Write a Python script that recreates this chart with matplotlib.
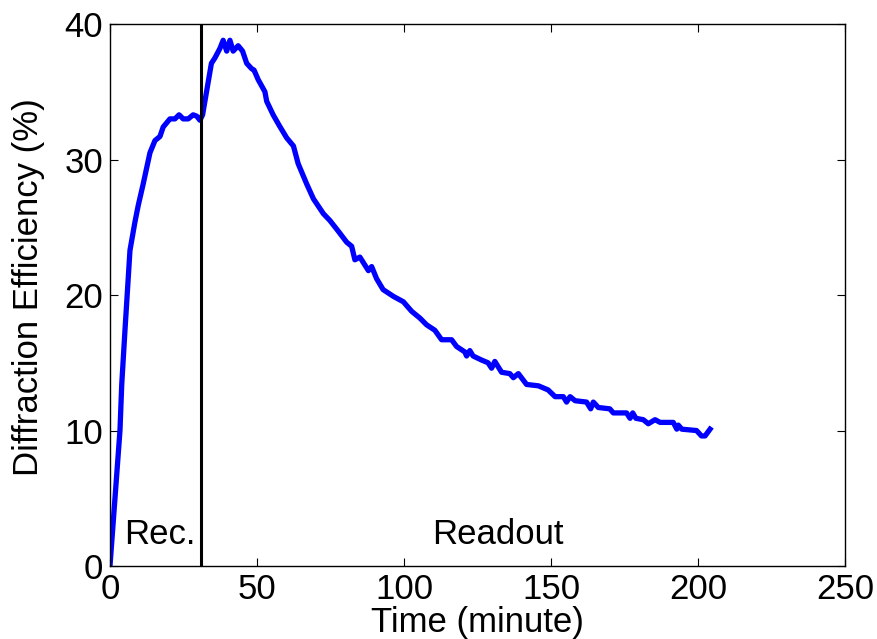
import numpy as np
import matplotlib
matplotlib.use('Agg')
import matplotlib.pyplot as plt

plt.rcParams['font.family'] = ['Liberation Sans', 'DejaVu Sans']

# Diffraction efficiency vs time
time_min = [0.0, 3.4, 4.0, 5.1, 6.8, 8.5, 9.6, 11.3, 13.6, 15.3, 17.0, 18.1,
            20.4, 22.1, 23.5, 24.9, 26.6, 28.3, 29.5, 30.6, 31.5,
            34.5, 35.7, 37.4, 38.5, 39.7, 40.8, 41.9, 43.6, 45.1, 46.5,
            48.2, 49.0, 50.4, 52.7, 53.3, 55.5, 57.6, 60.1, 62.4, 64.0,
            66.9, 69.2, 72.6, 74.8, 77.7, 80.5, 82.2, 83.3, 85.0, 87.9,
            89.0, 90.7, 92.9, 96.4, 99.8, 102.6, 105.4, 107.7, 110.5, 112.8,
            116.2, 117.9, 120.7, 121.3, 122.4, 123.5, 126.4, 128.6, 129.8,
            130.9, 133.2, 136.0, 137.2, 138.9, 141.7, 145.7, 149.0, 151.4,
            154.2, 155.3, 156.5, 158.2, 162.1, 163.5, 164.4, 166.1, 170.0,
            171.2, 175.7, 176.9, 177.8, 178.9, 181.4, 183.1, 185.4, 187.1,
            191.6, 192.8, 193.3, 194.5, 199.5, 201.2, 202.4, 204.1]
eff_pct = [0.0, 10.0, 13.4, 17.4, 23.3, 25.4, 26.6, 28.2, 30.5, 31.4, 31.7, 32.4,
           33.0, 33.0, 33.3, 33.0, 33.0, 33.3, 33.2, 32.9, 33.3,
           37.1, 37.5, 38.2, 38.8, 38.0, 38.8, 38.0, 38.4, 38.0, 37.1,
           36.7, 36.6, 35.9, 35.0, 34.3, 33.3, 32.5, 31.6, 31.0, 29.7,
           28.2, 27.1, 26.0, 25.5, 24.7, 23.9, 23.6, 22.6, 22.8, 21.8,
           22.1, 21.2, 20.4, 19.9, 19.5, 18.8, 18.3, 17.8, 17.4, 16.7,
           16.7, 16.2, 15.8, 15.5, 15.9, 15.5, 15.2, 15.0, 14.6,
           15.1, 14.3, 14.2, 13.9, 14.2, 13.4, 13.3, 13.0, 12.5,
           12.5, 12.1, 12.5, 12.2, 12.1, 11.6, 12.1, 11.7, 11.6,
           11.3, 11.3, 10.9, 11.3, 10.9, 10.8, 10.5, 10.8, 10.6,
           10.6, 10.1, 10.4, 10.1, 10.0, 9.6, 9.6, 10.1]
t_switch = 31.0
FS = 25

fig = plt.figure(figsize=(8.77, 6.39), dpi=100, facecolor='w')
ax = fig.add_axes([0.1254, 0.1142, 0.8381, 0.8482])

ax.plot(time_min, eff_pct, color='#0000ff', lw=3.8, solid_joinstyle='round')
ax.axvline(t_switch, color='k', lw=2.2)

ax.text(4.8, 1.6, 'Rec.', fontsize=FS, ha='left', va='baseline')
ax.text(131.8, 1.6, 'Readout', fontsize=FS, ha='center', va='baseline')

ax.set_xlim(0, 250)
ax.set_ylim(0, 40)
ax.set_xticks(np.arange(0, 251, 50))
ax.set_yticks(np.arange(0, 41, 10))
ax.tick_params(direction='in', length=6, width=0.8, top=True, right=True,
               labelsize=FS, pad=5)
for sp in ax.spines.values():
    sp.set_linewidth(1.0)

ax.set_xlabel('Time (minute)', fontsize=FS)
ax.xaxis.set_label_coords(0.5, -0.074)
ax.set_ylabel('Diffraction Efficiency (%)', fontsize=FS)
ax.yaxis.set_label_coords(-0.088, 0.515)

fig.savefig('out.png', dpi=100)
